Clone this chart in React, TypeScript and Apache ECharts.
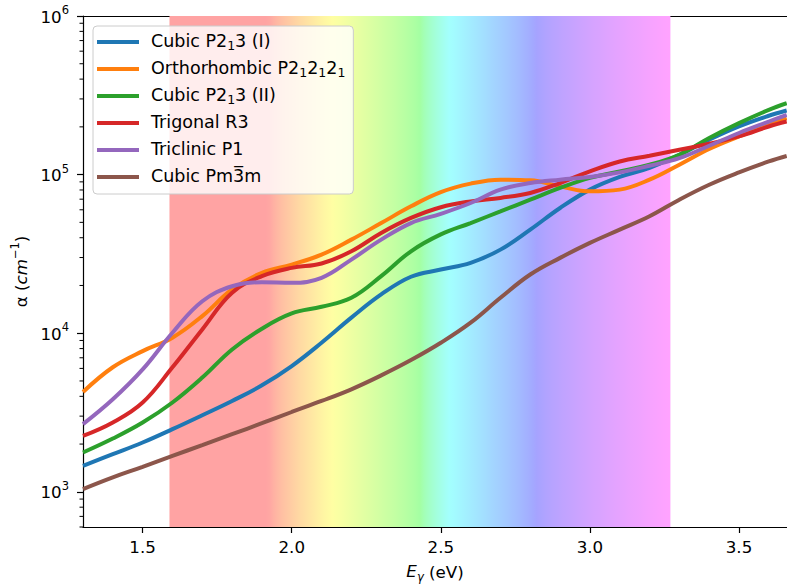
import React, { useEffect, useRef } from 'react';
import * as echarts from 'echarts';

// photon energy (eV)
const energy = [1.30, 1.40, 1.50, 1.60, 1.70, 1.80, 1.90, 2.00, 2.10, 2.20, 2.30, 2.40, 2.50, 2.60, 2.70, 2.80, 2.90, 3.00, 3.10, 3.20, 3.30, 3.40, 3.50, 3.60, 3.66];

// absorption coefficient (cm^-1)
const cubicP213I = [1459, 1727, 2046, 2483, 3040, 3738, 4693, 6210, 8710, 12530, 17550, 22700, 25200, 27800, 33650, 45000, 61600, 80400, 96600, 110200, 133400, 166000, 201400, 235000, 253500];
const orthoP212121 = [4260, 6100, 7710, 9370, 12820, 18880, 24050, 27100, 31310, 38900, 49500, 63100, 77500, 87700, 92900, 92000, 84300, 78400, 80400, 92900, 115400, 145000, 174000, 206000, 227000];
const cubicP213II = [1770, 2167, 2735, 3656, 5250, 7900, 10680, 13330, 14680, 16720, 22900, 32860, 42000, 49500, 58600, 69500, 82400, 95300, 104800, 115400, 133400, 170000, 211000, 256000, 282000];
const trigonalR3 = [2250, 2735, 3656, 6100, 10570, 18000, 22900, 25830, 27500, 32860, 42860, 53300, 62300, 67800, 71300, 76600, 88500, 104800, 121000, 131500, 143600, 156400, 174000, 201000, 216000];
const triclinicP1 = [2670, 3830, 5910, 10070, 15900, 19770, 20980, 20800, 22350, 29110, 38900, 49500, 56600, 66200, 80400, 88500, 92900, 96600, 103300, 113800, 127000, 152000, 183000, 216000, 238000];
const cubicPm3m = [1040, 1233, 1437, 1686, 1968, 2307, 2706, 3186, 3738, 4430, 5420, 6770, 8700, 11650, 16720, 23440, 29850, 37100, 45000, 54600, 69500, 86300, 103200, 121000, 131000];

const seriesNames = [
  'Cubic P2₁3 (I)',
  'Orthorhombic P2₁2₁2₁',
  'Cubic P2₁3 (II)',
  'Trigonal R3',
  'Triclinic P1',
  'Cubic Pm3̅m',
];
const seriesValues = [cubicP213I, orthoP212121, cubicP213II, trigonalR3, triclinicP1, cubicPm3m];
const seriesColors = ['#1f77b4', '#ff7f0e', '#2ca02c', '#d62728', '#9467bd', '#8c564b'];

const xTicks = [1.5, 2.0, 2.5, 3.0, 3.5];
const yMajorTicks = [1e3, 1e4, 1e5, 1e6];

const X_MIN = 1.3;
const X_MAX = 3.661;
const Y_MIN = 600;
const Y_MAX = 1e6;
const VIS_MIN = 1.59; // ~780 nm
const VIS_MAX = 3.27; // ~380 nm

const FONT = 'DejaVu Sans';
const FS = 16.7;

function wavelengthToRgb(w: number): [number, number, number] {
  let r = 0, g = 0, b = 0;
  if (w < 440) { r = Math.min(1, -(w - 440) / 60); b = 1; }
  else if (w < 490) { g = (w - 440) / 50; b = 1; }
  else if (w < 510) { g = 1; b = -(w - 510) / 20; }
  else if (w < 580) { r = (w - 510) / 70; g = 1; }
  else if (w < 645) { r = 1; g = -(w - 645) / 65; }
  else { r = 1; }
  const gm = 0.8;
  return [Math.pow(r, gm), Math.pow(g, gm), Math.pow(b, gm)];
}

function rainbowStops() {
  const alpha = 0.36;
  const stops: { offset: number; color: string }[] = [];
  const n = 120;
  for (let i = 0; i <= n; i++) {
    const e = VIS_MIN + (VIS_MAX - VIS_MIN) * i / n;
    const [r, g, b] = wavelengthToRgb(1239.84 / e);
    const c = (v: number) => Math.round(255 * (1 - alpha + alpha * v));
    stops.push({ offset: i / n, color: `rgb(${c(r)},${c(g)},${c(b)})` });
  }
  return stops;
}

function minorTickValues() {
  const out: number[] = [];
  for (let k = 2; k <= 5; k++) {
    for (let m = 2; m <= 9; m++) {
      const v = m * Math.pow(10, k);
      if (v >= Y_MIN && v < Y_MAX) out.push(v);
    }
  }
  return out;
}

// legend label: unicode subscript one -> rich subscript token
function legendRich(name: string) {
  return name
    .split('₁')
    .map((part, i, arr) => (part ? `{b|${part}}` : '') + (i < arr.length - 1 ? '{s|1}' : ''))
    .join('');
}

export default function App() {
  const ref = useRef<HTMLDivElement>(null);

  useEffect(() => {
    if (!ref.current) return;
    const chart = echarts.init(ref.current, null, { renderer: 'svg' });

    const lineSeries = seriesNames.map((name, i) => ({
      name,
      type: 'line',
      data: energy.map((e, j) => [e, seriesValues[i][j]]),
      showSymbol: false,
      symbol: 'none',
      smooth: 0.4,
      color: seriesColors[i],
      lineStyle: { width: 4, color: seriesColors[i] },
      z: 3 + i * 0.01,
      clip: true,
    }));

    const stops = rainbowStops();

    const option: any = {
      animation: false,
      backgroundColor: '#ffffff',
      grid: { left: 83, right: 0, top: 16, bottom: 60, containLabel: false },
      legend: {
        data: seriesNames,
        orient: 'vertical',
        left: 93,
        top: 26,
        icon: 'rect',
        itemWidth: 42,
        itemHeight: 4,
        itemGap: 7,
        padding: [6, 8, 7, 4],
        backgroundColor: 'rgba(255,255,255,0.8)',
        borderColor: '#cccccc',
        borderWidth: 1,
        borderRadius: 4,
        selectedMode: false,
        formatter: (name: string) => legendRich(name),
        textStyle: {
          fontSize: 17.5,
          color: '#000',
          fontFamily: FONT,
          lineHeight: 20,
          padding: [0, 0, 0, 7],
          rich: {
            b: { fontSize: 17.5, color: '#000', fontFamily: FONT, verticalAlign: 'top', lineHeight: 20 },
            s: { fontSize: 12.5, color: '#000', fontFamily: FONT, verticalAlign: 'bottom', lineHeight: 20 },
          },
        },
      },
      xAxis: [
        {
          type: 'value',
          min: X_MIN,
          max: X_MAX,
          position: 'bottom',
          axisLine: { show: true, onZero: false, lineStyle: { color: '#000', width: 1.2 } },
          axisTick: { show: true, customValues: xTicks, length: 6, lineStyle: { color: '#000', width: 1.2 } },
          axisLabel: {
            customValues: xTicks,
            formatter: (v: number) => v.toFixed(1),
            fontSize: FS,
            color: '#000',
            fontFamily: FONT,
            margin: 11,
          },
          splitLine: { show: false },
          name: '{i|E}{s|γ} (eV)',
          nameLocation: 'middle',
          nameGap: 35,
          nameTextStyle: {
            fontSize: FS,
            color: '#000',
            fontFamily: FONT,
            verticalAlign: 'top',
            rich: {
              i: { fontSize: FS, fontStyle: 'italic', fontFamily: FONT, color: '#000', verticalAlign: 'top', lineHeight: 20 },
              s: { fontSize: 11.5, fontStyle: 'italic', fontFamily: FONT, color: '#000', verticalAlign: 'top', lineHeight: 11, padding: [9, 0, 0, 0] },
            },
          },
        },
        {
          type: 'value',
          min: X_MIN,
          max: X_MAX,
          position: 'top',
          axisLine: { show: true, onZero: false, lineStyle: { color: '#000', width: 1.2 } },
          axisTick: { show: false },
          axisLabel: { show: false },
          splitLine: { show: false },
        },
      ],
      yAxis: {
        type: 'log',
        logBase: 10,
        min: Y_MIN,
        max: Y_MAX,
        axisLine: { show: true, onZero: false, lineStyle: { color: '#000', width: 1.2 } },
        axisTick: { show: true, customValues: yMajorTicks, length: 6, lineStyle: { color: '#000', width: 1.2 } },
        axisLabel: {
          customValues: yMajorTicks,
          formatter: (v: number) => `{b|10}{sup|${Math.round(Math.log10(v))}}`,
          margin: 14,
          rich: {
            b: { fontSize: FS, color: '#000', fontFamily: FONT, verticalAlign: 'bottom', lineHeight: 18 },
            sup: { fontSize: 11.5, color: '#000', fontFamily: FONT, verticalAlign: 'bottom', lineHeight: 12, padding: [0, 0, 9, 0] },
          },
        },
        splitLine: { show: false },
        name: 'α ({i|cm}{sup|−1})',
        nameLocation: 'middle',
        nameRotate: 90,
        nameGap: 52,
        nameTextStyle: {
          fontSize: FS,
          color: '#000',
          fontFamily: FONT,
          rich: {
            i: { fontSize: FS, fontStyle: 'italic', fontFamily: FONT, color: '#000', verticalAlign: 'bottom', lineHeight: 18 },
            sup: { fontSize: 11.5, fontFamily: FONT, color: '#000', verticalAlign: 'bottom', lineHeight: 12, padding: [0, 0, 9, 0] },
          },
        },
      },
      series: [
        {
          type: 'custom',
          silent: true,
          z: 1,
          clip: false,
          data: [[VIS_MIN, VIS_MAX, Y_MIN, Y_MAX]],
          encode: { x: [0, 1], y: [2, 3] },
          renderItem: (params: any, api: any) => {
            const p0 = api.coord([api.value(0), api.value(3)]);
            const p1 = api.coord([api.value(1), api.value(2)]);
            return {
              type: 'rect',
              shape: { x: p0[0], y: p0[1], width: p1[0] - p0[0], height: p1[1] - p0[1] },
              style: { fill: new echarts.graphic.LinearGradient(0, 0, 1, 0, stops) },
            };
          },
        },
        {
          type: 'custom',
          silent: true,
          z: 2,
          clip: false,
          data: minorTickValues().map((v) => [X_MIN, v]),
          encode: { x: 0, y: 1 },
          renderItem: (params: any, api: any) => {
            const p = api.coord([api.value(0), api.value(1)]);
            return {
              type: 'line',
              shape: { x1: p[0] - 3.5, y1: p[1], x2: p[0], y2: p[1] },
              style: { stroke: '#000', lineWidth: 1 },
            };
          },
        },
        ...lineSeries,
      ],
    };

    chart.setOption(option);
    return () => chart.dispose();
  }, []);

  return (
    <div style={{ position: 'fixed', left: 0, top: 0, width: 787, height: 588, background: '#fff', overflow: 'hidden' }}>
      <div ref={ref} style={{ width: 787, height: 588 }} />
    </div>
  );
}
